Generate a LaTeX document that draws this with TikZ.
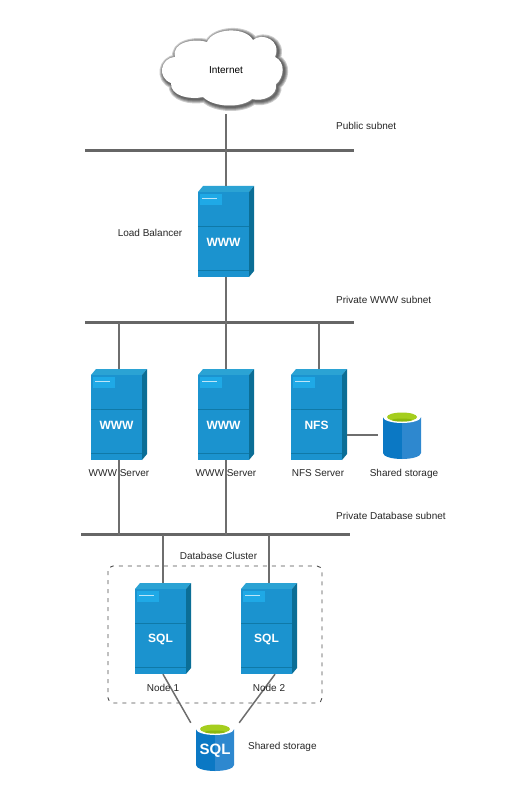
\documentclass[tikz,border=0pt]{standalone}
\usepackage{fontspec}
\setmainfont{Liberation Sans}
\usetikzlibrary{positioning}
\definecolor{srvfront}{HTML}{1B93CF}
\definecolor{srvtop}{HTML}{2BA3D4}
\definecolor{srvside}{HTML}{0B6E96}
\definecolor{srvline}{HTML}{0F79A8}
\definecolor{srvbadge}{HTML}{1FA9E6}
\definecolor{wirecol}{HTML}{6E6E6E}
\definecolor{barcol}{HTML}{666666}
\definecolor{dbleft}{HTML}{0B78C4}
\definecolor{dbright}{HTML}{2E88CF}
\definecolor{dbtop}{HTML}{A5CE1E}
\definecolor{dbtopdark}{HTML}{8DB80F}
\tikzset{
  every node/.style={font=\fontsize{10}{12}\selectfont},
  wire/.style={draw=wirecol,line width=1.5pt},
  netbar/.style={fill=barcol,minimum width=269pt,minimum height=3.6pt,inner sep=0pt},
  srvbox/.style={minimum width=56pt,minimum height=91pt,inner sep=0pt},
  dbbox/.style={minimum width=48pt,minimum height=48pt,inner sep=0pt},
  lbl/.style={inner sep=0pt,text=black!85}
}
% one server: name, x of left edge, y of top edge, word on the front
\newcommand{\srvnode}[4]{
  \begin{scope}[shift={(#2,#3)}]
    \fill[srvtop] (0,6) -- (5,0) -- (56,0) -- (51,6) -- cycle;
    \fill[srvside] (51,6) -- (56,0) -- (56,85) -- (51,91) -- cycle;
    \fill[srvfront] (0,6) rectangle (51,91);
    \fill[srvbadge] (1.5,8) rectangle (24,19);
    \draw[white!70!srvbadge,line width=.6pt] (4,12.5) -- (19,12.5);
    \draw[srvline,line width=.7pt] (0,40) -- (51,40) (0,84) -- (51,84);
    \node[text=white,font=\fontsize{12}{14}\bfseries\selectfont] at (25.5,56) {#4};
  \end{scope}
  \node[srvbox] (#1) at (#2+28,#3+45.5) {};
}
% one disk: name, x of centre, y of top edge
\newcommand{\dbnode}[3]{
  \begin{scope}[shift={(#2,#3)}]
    \fill[dbleft] (-19,6) -- (-19,42) .. controls (-19,45.5) and (-10,48) .. (0,48) -- (0,6) -- cycle;
    \fill[dbright] (0,6) -- (0,48) .. controls (10,48) and (19,45.5) .. (19,42) -- (19,6) -- cycle;
    \fill[white] (0,6) ellipse[x radius=19,y radius=6];
    \fill[dbtop] (0,6) ellipse[x radius=15,y radius=4.5];
    \fill[dbtopdark] (0,9) ellipse[x radius=10,y radius=1.5];
  \end{scope}
  \node[dbbox] (#1) at (#2,#3+24) {};
}
\begin{document}
\begin{tikzpicture}[x=1pt,y=-1pt]
  \useasboundingbox (0,0) rectangle (529,794);
  % cloud
  \def\cloudpath{(175,57) .. controls (171,42) and (195,38) .. (207,42) .. controls (213,28) and (245,26) .. (253,40) .. controls (262,32) and (282,40) .. (275,57) .. controls (286,62) and (284,78) .. (276,84) .. controls (278,96) and (262,102) .. (252,99) .. controls (242,108) and (214,108) .. (203,97) .. controls (190,100) and (170,96) .. (171,83) .. controls (157,78) and (160,58) .. (175,57) -- cycle}
  \foreach \w in {8,6,4,2}
    \draw[black,opacity=.2,line width=\w pt,line join=round,shift={(1.5,1.5)}] \cloudpath;
  \fill[white] \cloudpath;
  \node[inner sep=0pt,minimum width=100pt,minimum height=88pt] (inet) at (226,70) {Internet};

  % subnets
  \node[netbar] (pubnet) at (219.5,150.5) {};
  \node[netbar] (wwwnet) at (219.5,322.5) {};
  \node[netbar] (dbnet) at (215.5,534.5) {};

  % cluster frame
  \draw[draw=black!70,line width=.9pt,rounded corners=5pt,dash pattern=on 4pt off 5pt] (108,566) rectangle (322,703);

  \srvnode{lb}{198}{186}{WWW}
  \srvnode{wwwa}{91}{369}{WWW}
  \srvnode{wwwb}{198}{369}{WWW}
  \srvnode{nfs}{291}{369}{NFS}
  \srvnode{sqla}{135}{583}{SQL}
  \srvnode{sqlb}{241}{583}{SQL}
  \dbnode{share}{402}{411}
  \dbnode{sqldb}{215}{723}
  \node[text=white,font=\fontsize{15}{17}\bfseries\selectfont] (sqltxt) at (215,750.5) {SQL};

  % links
  \draw[wire] (inet.south) -- (lb.north);
  \draw[wire] (lb.south) -- (lb.south |- wwwnet);
  \draw[wire] (wwwa.north) -- (wwwa.north |- wwwnet);
  \draw[wire] (wwwb.north) -- (wwwb.north |- wwwnet);
  \draw[wire] (nfs.north) -- (nfs.north |- wwwnet);
  \draw[wire] (wwwa.south) -- (wwwa.south |- dbnet);
  \draw[wire] (wwwb.south) -- (wwwb.south |- dbnet);
  \draw[wire] (sqla.north) -- (sqla.north |- dbnet);
  \draw[wire] (sqlb.north) -- (sqlb.north |- dbnet);
  \draw[wire] (nfs.east |- share.west) -- (share.west);
  \draw[wire] (sqla.south) -- (sqldb.north west);
  \draw[wire] ([xshift=6pt]sqlb.south) -- (sqldb.north east);

  % labels
  \node[lbl,anchor=west] (publbl) at (336,125.5) {Public subnet};
  \node[lbl,anchor=west] (wwwlbl) at (336,299.5) {Private WWW subnet};
  \node[lbl,anchor=west] (dblbl) at (336,515.5) {Private Database subnet};
  \node[lbl] (lblb) at (150,232.5) {Load Balancer};
  \node[lbl] (lbla) at (119,473.5) {WWW Server};
  \node[lbl] (lblc) at (226,473.5) {WWW Server};
  \node[lbl] (lbln) at (318,473.5) {NFS Server};
  \node[lbl] (lbls) at (404,473.5) {Shared storage};
  \node[lbl] (lbld) at (218.5,555.5) {Database Cluster};
  \node[lbl] (lbl1) at (163,687.5) {Node 1};
  \node[lbl] (lbl2) at (269,687.5) {Node 2};
  \node[lbl,anchor=west] (lbl3) at (248,746.5) {Shared storage};
\end{tikzpicture}
\end{document}
